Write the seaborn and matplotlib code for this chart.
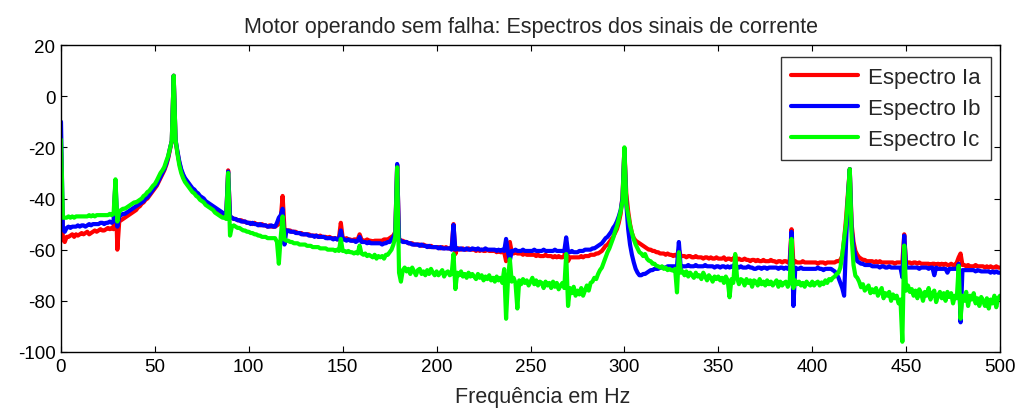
import numpy as np
import pandas as pd
import matplotlib
matplotlib.use("Agg")
import matplotlib.pyplot as plt
import seaborn as sns

# Frequency axis of the spectra (1 Hz bins, 0..500 Hz)
FREQ_HZ = np.arange(0, 501)

# Current spectra in dB, one value per Hz
ESPECTRO_IA = [
    -22, -56, -57, -55, -55, -54.5, -54, -55, -54, -54.5,
    -54, -53.5, -54, -53.5, -53, -54, -53.5, -53, -52.5, -53,
    -52.5, -52, -52.5, -52.5, -52, -51.5, -52, -51.5, -52, -33,
    -60, -49, -48.5, -48, -47.5, -47, -46.5, -46, -45.5, -45,
    -44.5, -43.5, -43, -42, -41.5, -40.5, -40, -39, -38, -37,
    -36, -35, -33.5, -32, -30.5, -29, -27, -24.5, -21, -17.5,
    8, -17.5, -22, -26, -29, -31, -32.5, -33.5, -34.5, -35.5,
    -36.5, -37, -38, -38.5, -39.5, -40, -40.5, -41.5, -42, -42.5,
    -43, -43.5, -44, -44.5, -45, -45.5, -46, -46, -46.5, -29,
    -47, -47.5, -48, -48, -48.5, -48.5, -48.5, -49, -49, -49.5,
    -49.5, -49.5, -50, -49.5, -50, -50, -50.5, -50, -50.5, -50.5,
    -51, -50.5, -51, -51, -51, -50.5, -50, -48, -39, -52,
    -52.5, -52.5, -52.5, -53, -53, -53, -53.5, -53.5, -53.5, -54,
    -54, -54, -54, -54.5, -54.5, -54.5, -54.5, -55, -54.5, -55,
    -55, -55, -55.5, -55, -55.5, -55.5, -55.5, -56, -55.5, -49.5,
    -55.5, -56, -55.5, -56, -56, -56.5, -56, -56, -56, -54,
    -56, -56.5, -56.5, -56, -56.5, -56.5, -57, -56.5, -56.5, -56.5,
    -56.5, -56.5, -56, -56, -56, -55.5, -55, -54.5, -53, -27,
    -56, -56.5, -56.5, -57, -57, -57.5, -57.5, -57.5, -58, -58,
    -58, -58, -58.5, -58, -58.5, -58.5, -59, -58.5, -59, -59,
    -59, -59, -59.5, -59, -59.5, -59, -59.5, -59.5, -59.5, -50,
    -61.7, -59.5, -59.5, -60, -59.5, -60, -60, -59.5, -60, -60,
    -60, -60.5, -60, -60.5, -60, -60.5, -60.5, -60, -60.5, -60.5,
    -60.5, -60.5, -61, -60.5, -61, -61, -61, -64.5, -61, -57,
    -61, -61.5, -61, -61.5, -61.5, -61.5, -62, -61.5, -62, -62,
    -62, -62, -62, -62.5, -62, -62.5, -62.5, -62.5, -62, -62.5,
    -62.5, -62.5, -63, -62.5, -63, -62.5, -63, -63, -62.5, -58,
    -64.5, -63, -63, -63, -63, -63, -63, -62.5, -63, -62.5,
    -62.5, -62.5, -62, -62, -62, -61.5, -61.5, -61, -60.5, -59.5,
    -58.5, -58, -57, -56, -55, -53.5, -52, -49.5, -46, -39,
    -20.5, -38, -45, -50, -53.5, -55.5, -56.5, -57, -57.5, -58,
    -58.5, -59, -59.5, -60, -60, -60.5, -60.5, -61, -61, -61.5,
    -61.5, -61.5, -62, -61.5, -62, -62, -62.5, -62, -62.5, -60,
    -62.5, -62.5, -62.5, -63, -62.5, -62.5, -63, -63, -62.5, -63,
    -63, -63, -63.5, -63, -63, -63.5, -63, -63.5, -63.5, -63,
    -63.5, -63.5, -63.5, -63, -64, -63.5, -63.5, -64, -63.5, -62.5,
    -64, -63.5, -64, -64, -63.5, -64, -64, -64.5, -64, -64,
    -64.5, -64, -64.5, -64.5, -64, -64.5, -64.5, -64.5, -64, -64.5,
    -64.5, -65, -64.5, -64.5, -65, -64.5, -64.5, -65, -64.5, -52,
    -65.5, -64.5, -65, -65, -65, -64.5, -65, -65, -65, -65,
    -65, -65, -65, -65.5, -65, -65, -65, -65.5, -65, -65,
    -65, -65, -65, -64.5, -64.5, -64, -62.5, -56, -48, -38,
    -28.5, -50, -57, -60.5, -62, -63, -63.5, -64, -64, -64.5,
    -64.5, -64.5, -64.5, -65, -64.5, -65, -64.5, -65, -65, -65,
    -65, -65, -65, -65, -65.5, -65, -65, -65, -65, -54,
    -65.5, -65, -65, -65.5, -65, -65, -65.5, -65, -65.5, -65.5,
    -65.5, -65.5, -65.5, -66, -65.5, -65.5, -66, -65.5, -66, -65.5,
    -66, -65.5, -66, -66, -65.5, -66, -66, -65, -63, -61.5,
    -66, -66, -66.5, -66, -66.5, -66.5, -66.5, -66, -66.5, -66.5,
    -66.5, -66.5, -67, -66.5, -67, -66.5, -67, -67, -66.5, -67,
    -67,
]

ESPECTRO_IB = [
    -10, -52, -53, -51.5, -51, -51.5, -51, -51, -51, -50.5,
    -51, -50.5, -50.5, -51, -50.5, -50, -50.5, -50, -50, -50,
    -50, -49.5, -49.5, -50, -49.5, -49.5, -49, -49.5, -49, -33,
    -51, -47, -46.5, -46, -46, -45.5, -45, -44.5, -44, -43.5,
    -43, -42.5, -42, -41.5, -41, -40, -39.5, -38.5, -37.5, -36.5,
    -35.5, -34.5, -33, -31.5, -30, -28.5, -26.5, -24, -20.5, -17.5,
    8, -17, -21.5, -25.5, -28.5, -30.5, -32, -33, -34, -35,
    -36, -36.5, -37.5, -38, -39, -39.5, -40, -41, -41.5, -42,
    -42.5, -43, -43.5, -44, -44.5, -45, -45.5, -46, -46, -29.5,
    -47, -47.5, -48, -48, -48.5, -48.5, -49, -49, -49, -49.5,
    -49.5, -50, -49.5, -50, -50, -50.5, -50, -50.5, -50.5, -50.5,
    -51, -51, -50.5, -51, -51, -49.5, -47.5, -46.5, -44, -58,
    -52.5, -52.5, -53, -53, -53, -53.5, -53.5, -53.5, -54, -54,
    -54, -54, -54.5, -54.5, -54.5, -55, -54.5, -55, -55, -55,
    -55, -55.5, -55.5, -55.5, -55.5, -56, -55.5, -56, -56, -52.5,
    -56, -56, -56.5, -56, -56.5, -56.5, -56.5, -57, -56.5, -55,
    -57, -57, -57, -57.5, -57, -57.5, -57.5, -57.5, -57.5, -57.5,
    -57.5, -58, -57.5, -57.5, -57, -57, -56, -55, -53.5, -26.5,
    -56, -56.5, -57, -57, -57, -57.5, -57.5, -58, -58, -58,
    -58, -58.5, -58, -58.5, -58.5, -59, -58.5, -59, -59, -59,
    -59, -59.5, -59, -59.5, -59.5, -59.5, -59.5, -59.5, -60, -50.3,
    -60, -59.5, -60, -59.5, -60, -60, -59.5, -60, -60, -59.5,
    -59.7, -60, -59.5, -60, -60, -60, -59.5, -60, -60, -60,
    -60, -60, -60.5, -60, -60.5, -60, -60.5, -55.8, -61, -64.3,
    -60.5, -60.5, -60, -60.5, -60.5, -60.5, -60, -60.5, -60.5, -60.5,
    -60.5, -60.5, -60, -60.5, -60.5, -60.5, -60.5, -60, -60.5, -60.5,
    -60.5, -60.5, -60.5, -60, -60.5, -60.5, -60.5, -60.5, -60.5, -55.2,
    -61, -61, -60.5, -61, -61, -61, -60.5, -60.5, -60.5, -60,
    -60, -60, -60, -59.5, -59.5, -59, -58.5, -58, -57.5, -56.5,
    -55.5, -55, -54, -53, -51.5, -50.5, -49, -47, -44.5, -40,
    -20.5, -42, -52, -58, -62, -65, -67.5, -69, -70, -70,
    -69.5, -69.5, -69, -68.5, -68, -68, -67.5, -67.5, -67.5, -67,
    -67, -67, -67, -66.5, -66.5, -66.5, -66.5, -66.5, -66.5, -57,
    -67, -66.5, -66.5, -66.5, -66, -66.5, -66.5, -66.5, -66, -66.5,
    -66.5, -66.5, -66.5, -66, -66.5, -66.5, -66.5, -66.5, -67, -66.5,
    -66.5, -67, -66.5, -66.5, -67, -66.5, -67, -66.5, -67, -65,
    -67, -67, -66.5, -67, -67, -67, -66.5, -67, -67, -67.5,
    -67.5, -67, -67, -67.5, -67, -67, -67.5, -67, -67, -67,
    -67, -67, -67.5, -67, -67, -67.5, -67, -67.5, -67, -53,
    -82, -67, -67.5, -67.5, -67, -67.5, -67.5, -67.5, -67.5, -67.5,
    -67.5, -67.5, -67.5, -67, -67.5, -67.5, -68, -67.5, -67.5, -67.5,
    -67.5, -68, -68.5, -69.5, -71, -73, -75, -78, -58, -40,
    -28.5, -52, -59, -62.5, -64.5, -65, -65.5, -65.5, -66, -66,
    -66, -66, -66.5, -66.5, -66.5, -66.5, -67, -66.5, -66.5, -67,
    -67, -66.5, -67, -67, -67, -67, -67, -67, -70.8, -54.5,
    -67, -67, -67, -67, -67, -67, -67, -67.5, -67, -67,
    -67, -67, -67.5, -67, -67, -70, -67, -67.5, -67.5, -67.5,
    -67.5, -67.5, -69, -67.5, -67.5, -67.5, -67.5, -67.5, -65.5, -88.4,
    -68, -68, -68, -68, -68, -68, -68, -68.5, -68, -68.2,
    -68.5, -68.5, -68.5, -68.5, -68.5, -69, -68.5, -69, -68.5, -69,
    -69,
]

ESPECTRO_IC = [
    -17, -47.5, -47.5, -47.5, -47, -47.5, -47, -47.5, -47, -47,
    -47, -47, -47, -47, -47, -46.5, -47, -46.5, -47, -46.5,
    -46.5, -46.5, -46.5, -46.5, -46.5, -46.5, -46, -46.5, -46, -32.5,
    -49, -45, -44.5, -44, -44, -43.5, -43, -42.5, -42, -41.5,
    -41.5, -41, -40.5, -40, -39, -38.5, -37.5, -37, -36, -35,
    -34.3, -33, -31.5, -30, -29, -27.7, -25.5, -23.5, -20.5, -17.5,
    8, -17, -22.5, -27, -30, -32, -33.5, -34.5, -35.5, -36.5,
    -37.5, -38, -39, -39.5, -40.5, -41, -41.5, -42.5, -43, -43.5,
    -44, -44.5, -45.5, -46, -46.5, -47, -47.5, -47.5, -48, -30,
    -54.5, -51, -50.5, -51, -51.5, -51.5, -52, -52.5, -52.5, -53,
    -53, -53.5, -53.5, -54, -54, -54.5, -54.5, -55, -55, -55,
    -55.5, -55.5, -55.5, -55.5, -55.5, -57, -65.5, -55, -47, -56,
    -56.5, -56.5, -57, -57, -57.5, -57.5, -57.5, -58, -58, -58,
    -58, -58.5, -58.5, -58.5, -59, -59, -59, -59, -59.5, -59.5,
    -59.5, -59.5, -60, -60, -60, -60, -60.5, -60, -60.5, -55.8,
    -60.5, -60.5, -61, -60.5, -61, -61, -61.5, -61, -61.5, -58.4,
    -61.5, -62, -61.5, -62.5, -62, -62.5, -63, -62, -63.5, -62.5,
    -63, -62.5, -63.5, -62, -62, -61, -60, -58, -55, -27.8,
    -69, -72.5, -68, -67, -68.5, -67.5, -69.5, -67, -68.5, -70,
    -68, -67.5, -69.5, -68.5, -70, -68, -69.5, -67.5, -69, -70,
    -68.5, -70, -69, -68, -70.5, -69, -68.5, -70, -69.5, -61.7,
    -75.4, -69, -70, -68.5, -70.5, -69.5, -71, -69, -70.5, -69.5,
    -70.5, -71.5, -69.5, -71, -70, -72, -70.5, -71.5, -70, -72,
    -71, -72.5, -70.5, -72, -71, -73, -67.6, -87, -72, -63.7,
    -72.5, -71, -73, -83, -72, -73.5, -71.5, -73, -72, -74,
    -72.5, -71, -73.5, -72, -74, -72.5, -73, -75, -72.5, -74,
    -73, -75, -72.5, -74.5, -73, -75.5, -74, -73, -75, -61.7,
    -82, -75, -77, -74.5, -78, -76, -77.5, -75, -78, -76,
    -74, -76, -73, -72.5, -71, -71.5, -69.5, -68, -67, -65,
    -63, -61, -59.5, -57.5, -55.5, -53, -51, -48, -45, -41,
    -20, -42, -46.5, -50.6, -53.5, -56, -58, -59.5, -61, -61.5,
    -62.5, -61.7, -63.5, -64.3, -64.5, -65.5, -65.5, -66.3, -66.5, -67,
    -66.5, -67.5, -67, -68, -67.5, -68, -68.2, -67.5, -76.7, -61,
    -69, -68.5, -70, -68.5, -70.5, -69, -70, -71, -69, -70.5,
    -70, -71.5, -69, -70.5, -72, -70, -71, -72.5, -70.5, -71.5,
    -70.5, -72, -71, -73, -70.5, -72, -78.6, -71.5, -73, -61.7,
    -71, -73.5, -71.5, -72, -74, -71.5, -73, -72, -74.5, -72,
    -72.5, -74, -71.5, -73.5, -72.5, -74, -72, -73.5, -72.5, -74,
    -73, -72, -74.5, -72.5, -74, -73, -72.5, -74.5, -73, -55.8,
    -75, -72, -73.5, -72.5, -74, -73, -74.5, -72.5, -73.5, -74,
    -72.5, -74, -73, -72.5, -74, -72.8, -73.5, -72, -73, -71.5,
    -72, -71, -70.5, -69.5, -69, -67, -62, -55.8, -50, -40,
    -28.5, -55, -66, -70.2, -71, -72.5, -74.7, -73.5, -76, -75,
    -74, -77, -75.5, -76.7, -75, -78, -76.5, -75, -79, -77,
    -78, -76.5, -80, -77.5, -79, -78, -81, -79.5, -96, -58.4,
    -76, -74, -76.5, -75.4, -78, -76, -79, -75.5, -77, -80,
    -76.5, -78, -75, -79.5, -77, -76, -80.5, -78, -76.5, -79,
    -77, -80, -76.5, -78.5, -77, -81, -78, -79, -66.3, -87,
    -78, -80, -76.5, -82, -78, -79.5, -77, -81, -79, -82,
    -78.5, -80, -82, -79, -83, -79.5, -81, -78, -82.5, -79,
    -78,
]

SERIES_NAMES = ["Espectro Ia", "Espectro Ib", "Espectro Ic"]
SERIES_COLORS = ["#ff0000", "#0000ff", "#00ff00"]
Y_TICKS = [20, 0, -20, -40, -60, -80, -100]
X_TICKS = [0, 50, 100, 150, 200, 250, 300, 350, 400, 450, 500]

for name, vals in zip(SERIES_NAMES, [ESPECTRO_IA, ESPECTRO_IB, ESPECTRO_IC]):
    assert len(vals) == len(FREQ_HZ), (name, len(vals))

frames = []
for name, vals in zip(SERIES_NAMES, [ESPECTRO_IA, ESPECTRO_IB, ESPECTRO_IC]):
    frames.append(pd.DataFrame({"freq": FREQ_HZ, "db": vals, "serie": name}))
df = pd.concat(frames, ignore_index=True)

sns.set_style("ticks")
plt.rcParams["font.family"] = ["Liberation Sans", "DejaVu Sans"]
plt.rcParams["axes.unicode_minus"] = False

fig = plt.figure(figsize=(10.24, 4.14), dpi=100)
ax = fig.add_axes([61 / 1024, 61 / 414, 939 / 1024, 307 / 414])

sns.lineplot(
    data=df, x="freq", y="db", hue="serie",
    hue_order=SERIES_NAMES, palette=dict(zip(SERIES_NAMES, SERIES_COLORS)),
    estimator=None, sort=False, linewidth=3.0, ax=ax,
)

ax.set_xlim(0, 500)
ax.set_ylim(-100, 20)
ax.set_xticks(X_TICKS)
ax.set_yticks(Y_TICKS)
ax.set_xticklabels([str(t) for t in X_TICKS])
ax.set_yticklabels([str(t) for t in Y_TICKS])

for lab in ax.get_xticklabels() + ax.get_yticklabels():
    lab.set_fontsize(13.5)

ax.tick_params(direction="in", length=4, width=0.8, top=True, right=True,
               colors="black", pad=4)
for sp in ax.spines.values():
    sp.set_visible(True)
    sp.set_color("black")
    sp.set_linewidth(1.0)

ax.set_xlabel("Frequência em Hz", fontsize=15.5)
ax.xaxis.set_label_coords(0.513, -0.112)
ax.set_ylabel("")
ax.set_title("Motor operando sem falha: Espectros dos sinais de corrente",
             fontsize=15.5, pad=9)

handles, labels = ax.get_legend_handles_labels()
leg = ax.legend(handles, labels, loc="upper right",
                bbox_to_anchor=(0.990, 0.962), fontsize=16,
                frameon=True, fancybox=False, shadow=False,
                handlelength=3.0, handletextpad=0.45, borderpad=0.45,
                labelspacing=0.45, borderaxespad=0)
leg.get_frame().set_edgecolor("black")
leg.get_frame().set_linewidth(1.0)
for line in leg.get_lines():
    line.set_linewidth(3.0)

fig.savefig("out.png", dpi=100, facecolor="white")
